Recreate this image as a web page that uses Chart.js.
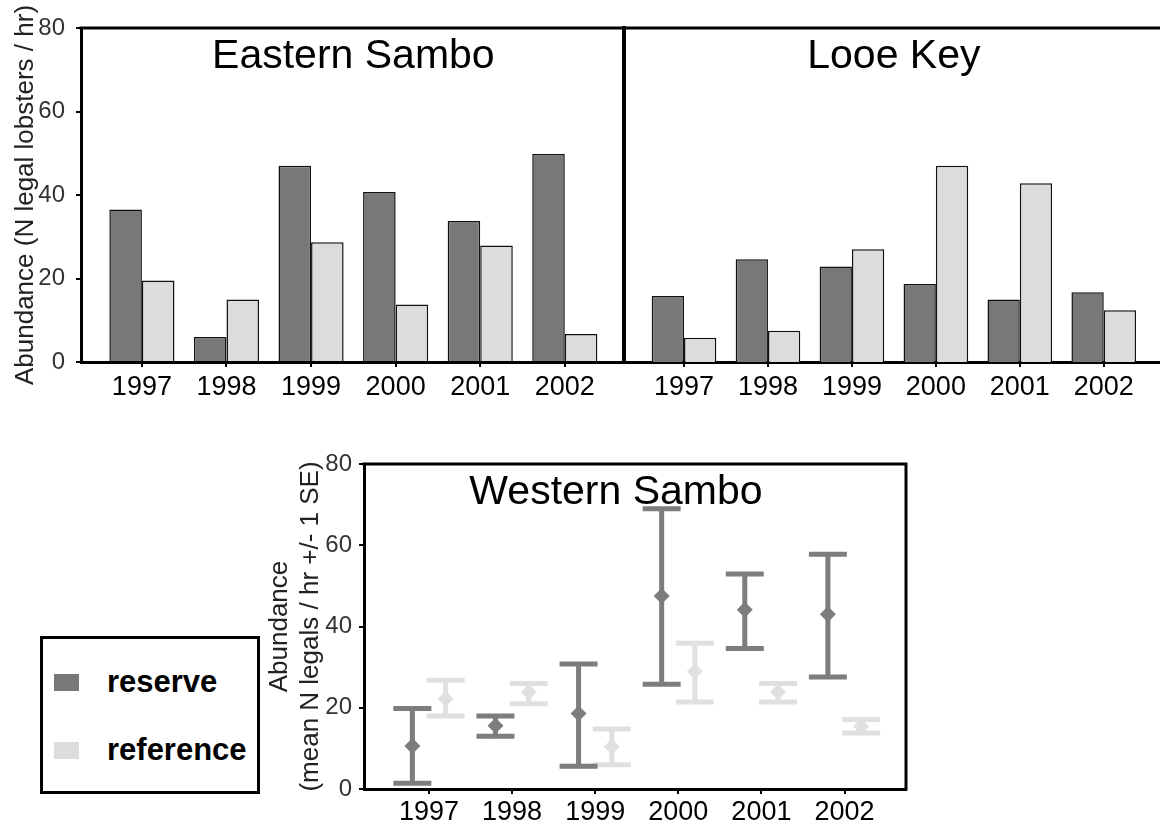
<!DOCTYPE html>
<html>
<head>
<meta charset="utf-8">
<script src="https://cdn.jsdelivr.net/npm/chart.js@4.4.1/dist/chart.umd.min.js"></script>
<style>
  body { margin: 0; background: #fff; width: 1160px; height: 827px; position: relative; overflow: hidden;
         font-family: "Liberation Sans", Arial, sans-serif; }
  canvas { position: absolute; }
  #eastern { left: 0; top: 0; }
  #looe { left: 600px; top: 0; }
  #western { left: 250px; top: 440px; }
  .legend-box { position: absolute; left: 40px; top: 636px; width: 214px; height: 152px;
                border: 3px solid #000; background: #fff; }
  .swatch { position: absolute; left: 11px; width: 25px; height: 17px; }
  .legend-text { position: absolute; left: 64px; font-size: 31px; font-weight: bold; line-height: 31px; color: #000; }
</style>
</head>
<body>
<canvas id="eastern" width="624" height="410"></canvas>
<canvas id="looe" width="560" height="410"></canvas>
<canvas id="western" width="680" height="387"></canvas>
<div class="legend-box">
  <div class="swatch" style="top:35px;background:#787878"></div>
  <div class="legend-text" style="top:27px">reserve</div>
  <div class="swatch" style="top:103px;background:#dcdcdc"></div>
  <div class="legend-text" style="top:95px">reference</div>
</div>
<script>
// data
const years = [1997, 1998, 1999, 2000, 2001, 2002];
const yTicks = [0, 20, 40, 60, 80];

const easternReserve = [36.5, 6, 47, 40.7, 33.8, 49.8];
const easternReference = [19.5, 15, 28.7, 13.8, 27.9, 6.7];

const looeReserve = [15.8, 24.6, 22.9, 18.7, 15, 16.7];
const looeReference = [5.8, 7.5, 27, 47, 42.8, 12.4];

const westernReserveMean = [10.6, 15.6, 18.6, 47.5, 44.1, 43];
const westernReserveLow = [1.4, 13, 5.6, 25.8, 34.6, 27.6];
const westernReserveHigh = [19.8, 18, 30.8, 69, 52.9, 57.8];
const westernReferenceMean = [22.2, 23.8, 10.4, 28.9, 23.8, 15.4];
const westernReferenceLow = [18, 21, 6, 21.4, 21.4, 13.8];
const westernReferenceHigh = [26.8, 26, 14.8, 35.9, 26, 17.1];

const DARK = '#787878';
const LIGHT = '#dcdcdc';
const ERR_DARK = '#7d7d7d';
const ERR_LIGHT = '#e0e0e0';

Chart.defaults.font.family = '"Liberation Sans", Arial, sans-serif';
Chart.defaults.color = '#000';

// top border, optional right border and the panel name
const panelFrame = {
  id: 'panelFrame',
  afterDraw(chart, args, opts) {
    const ctx = chart.ctx;
    const a = chart.chartArea;
    ctx.save();
    ctx.strokeStyle = '#000';
    ctx.lineWidth = 3;
    ctx.beginPath();
    ctx.moveTo(a.left - 1.5, a.top);
    ctx.lineTo(a.right + (opts.right ? 1.5 : 0), a.top);
    if (opts.right) {
      ctx.moveTo(a.right, a.top);
      ctx.lineTo(a.right, a.bottom + 1.5);
    }
    ctx.stroke();
    ctx.font = '41px "Liberation Sans", Arial, sans-serif';
    ctx.fillStyle = '#000';
    ctx.textAlign = 'center';
    ctx.textBaseline = 'middle';
    ctx.fillText(opts.title, chart.scales.x.getPixelForValue(opts.titleAt), a.top + 29);
    ctx.restore();
  }
};

function xAxis(min, max, height, pad) {
  return {
    type: 'linear',
    min: min,
    max: max,
    offset: false,
    afterBuildTicks: s => { s.ticks = years.map(v => ({ value: v })); },
    afterFit: s => { s.height = height; },
    grid: { offset: false, drawOnChartArea: false, drawTicks: true, tickLength: 5, color: '#000', lineWidth: 2 },
    border: { display: true, color: '#000', width: 3 },
    ticks: { callback: v => String(v), color: '#000', font: { size: 27 }, padding: pad, maxRotation: 0, autoSkip: false }
  };
}

function yAxis(width, title, titlePad, tickPad) {
  return {
    min: 0,
    max: 80,
    afterBuildTicks: s => { s.ticks = yTicks.map(v => ({ value: v })); },
    afterFit: s => { s.width = width; },
    grid: { drawOnChartArea: false, drawTicks: true, tickLength: 5, color: '#000', lineWidth: 2 },
    border: { display: true, color: '#000', width: 3 },
    ticks: { color: '#333', font: { size: 24 }, padding: tickPad },
    title: { display: true, text: title, color: '#222', font: { size: 26 }, padding: { top: titlePad } }
  };
}

function barSets(reserve, reference) {
  return [
    { label: 'reserve', data: years.map((y, i) => ({ x: y, y: reserve[i] })), backgroundColor: DARK },
    { label: 'reference', data: years.map((y, i) => ({ x: y, y: reference[i] })), backgroundColor: LIGHT }
  ];
}

const barDefaults = { categoryPercentage: 0.77, barPercentage: 1, borderColor: '#111', borderWidth: 1.5 };

// Eastern Sambo
new Chart(document.getElementById('eastern'), {
  type: 'bar',
  data: { datasets: barSets(easternReserve, easternReference) },
  options: {
    responsive: false,
    animation: false,
    layout: { padding: { top: 28, left: 0, right: 0, bottom: 0 } },
    datasets: { bar: barDefaults },
    scales: {
      x: xAxis(1996.28, 2002.7, 48, 4),
      y: yAxis(81, 'Abundance (N legal lobsters / hr)', 10, 11)
    },
    plugins: {
      legend: { display: false },
      tooltip: { enabled: false },
      panelFrame: { title: 'Eastern Sambo', titleAt: 1999.5 }
    }
  },
  plugins: [panelFrame]
});

// Looe Key
const looeY = yAxis(24, '', 0, 0);
looeY.grid = { display: false };
looeY.ticks = { display: false };
looeY.title = { display: false };
looeY.border = { display: true, color: '#000', width: 4 };

new Chart(document.getElementById('looe'), {
  type: 'bar',
  data: { datasets: barSets(looeReserve, looeReference) },
  options: {
    responsive: false,
    animation: false,
    layout: { padding: { top: 28, left: 0, right: 0, bottom: 0 } },
    datasets: { bar: barDefaults },
    scales: {
      x: xAxis(1996.285, 2002.67, 48, 4),
      y: looeY
    },
    plugins: {
      legend: { display: false },
      tooltip: { enabled: false },
      panelFrame: { title: 'Looe Key', titleAt: 1999.5 }
    }
  },
  plugins: [panelFrame]
});

// Western Sambo: mean with +/- 1 SE whiskers
function errorSets(label, mean, low, high, shift, color) {
  const xs = years.map(v => v + shift);
  const whisker = [];
  xs.forEach((x, i) => { whisker.push({ x: x, y: low[i] }, { x: x, y: high[i] }, { x: x, y: null }); });
  return [
    { label: label, type: 'line', data: whisker, borderColor: color, borderWidth: 5,
      pointRadius: 0, spanGaps: false, fill: false },
    { label: label, data: xs.flatMap((x, i) => [{ x: x, y: low[i] }, { x: x, y: high[i] }]),
      pointStyle: 'line', pointRadius: 19, borderColor: color, borderWidth: 5 },
    { label: label, data: xs.map((x, i) => ({ x: x, y: mean[i] })),
      pointStyle: 'rectRot', pointRadius: 8, backgroundColor: color, borderColor: color, borderWidth: 0 }
  ];
}

new Chart(document.getElementById('western'), {
  type: 'scatter',
  data: {
    datasets: [
      ...errorSets('reserve', westernReserveMean, westernReserveLow, westernReserveHigh, -0.2, ERR_DARK),
      ...errorSets('reference', westernReferenceMean, westernReferenceLow, westernReferenceHigh, 0.2, ERR_LIGHT)
    ]
  },
  options: {
    responsive: false,
    animation: false,
    layout: { padding: { top: 15, left: 0, right: 19, bottom: 0 } },
    scales: {
      x: xAxis(1996.218, 2002.74, 38, 2),
      y: yAxis(114, ['Abundance', '(mean N legals / hr +/- 1 SE)'], 14, 7)
    },
    plugins: {
      legend: { display: false },
      tooltip: { enabled: false },
      panelFrame: { title: 'Western Sambo', titleAt: 1999.25, right: true }
    }
  },
  plugins: [panelFrame]
});
</script>
</body>
</html>
